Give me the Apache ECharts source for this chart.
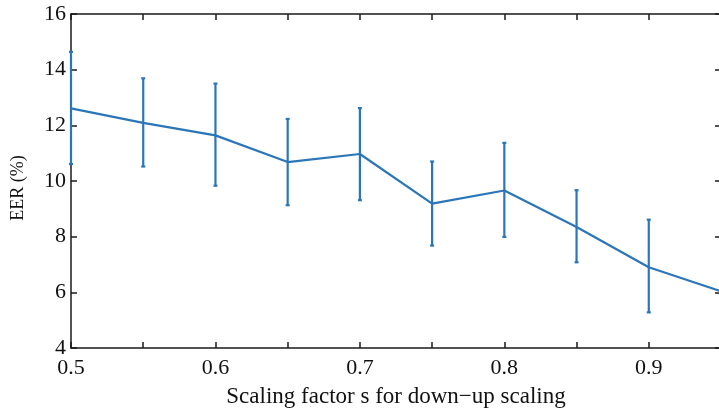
<!DOCTYPE html>
<html>
<head>
<meta charset="utf-8">
<title>EER vs scaling factor</title>
<script src="https://cdn.jsdelivr.net/npm/echarts@6/dist/echarts.min.js"></script>
<style>
    html, body { margin: 0; padding: 0; background: #ffffff; }
    #chart { width: 719px; height: 417px; }
</style>
</head>
<body>
<div id="chart"></div>
<script>
    // values
    var scaleFactors = [0.5, 0.55, 0.6, 0.65, 0.7, 0.75, 0.8, 0.85, 0.9, 0.95];
    var eerMean = [12.61, 12.09, 11.64, 10.68, 10.97, 9.19, 9.66, 8.35, 6.9, 6.04];
    var eerLow  = [10.61, 10.52, 9.83, 9.13, 9.31, 7.68, 7.99, 7.08, 5.28, null];
    var eerHigh = [14.64, 13.69, 13.5, 12.23, 12.62, 10.7, 11.37, 9.67, 8.61, null];
    var xTickLabels = ['0.5', '0.6', '0.7', '0.8', '0.9'];
    var yTicks = [4, 6, 8, 10, 12, 14, 16];

    var lineColor = '#2b75b9';
    var serif = 'Liberation Serif';

    var linePoints = scaleFactors.map(function (x, i) { return [x, eerMean[i]]; });
    var barPoints = [];
    scaleFactors.forEach(function (x, i) {
        if (eerLow[i] != null) barPoints.push([x, eerLow[i], eerHigh[i]]);
    });

    function xLabel(v) {
        var s = (Math.round(v * 100) / 100).toFixed(1);
        if (Math.round(v * 100) % 10 !== 0) return '';
        return xTickLabels.indexOf(s) >= 0 ? s : '';
    }

    var axisLine = { show: true, lineStyle: { color: '#1a1a1a', width: 1.5 } };
    var tick = { show: true, inside: true, length: 6, lineStyle: { color: '#1a1a1a', width: 1.5 } };

    var chart = echarts.init(document.getElementById('chart'));
    chart.setOption({
        animation: false,
        backgroundColor: '#ffffff',
        grid: { left: 71, right: -2, top: 14, bottom: 69, outerBoundsMode: 'none', containLabel: false },
        xAxis: [{
            type: 'value', min: 0.5, max: 0.95, interval: 0.05,
            name: 'Scaling factor s for down\u2212up scaling',
            nameLocation: 'middle', nameGap: 37,
            nameTextStyle: { fontFamily: serif, fontSize: 23, color: '#111' },
            axisLine: axisLine, axisTick: tick,
            axisLabel: { formatter: xLabel, fontFamily: serif, fontSize: 22, color: '#111', margin: 9, showMaxLabel: true },
            splitLine: { show: false }
        }, {
            type: 'value', position: 'top', min: 0.5, max: 0.95, interval: 0.05,
            axisLine: axisLine, axisTick: tick,
            axisLabel: { show: false }, splitLine: { show: false }
        }],
        yAxis: [{
            type: 'value', min: yTicks[0], max: yTicks[yTicks.length - 1], interval: 2,
            name: 'EER (%)', nameLocation: 'middle', nameGap: 44,
            nameTextStyle: { fontFamily: serif, fontSize: 18, color: '#111', padding: [0, 14, 0, 0] },
            axisLine: axisLine, axisTick: tick,
            axisLabel: { fontFamily: serif, fontSize: 22, color: '#111', margin: 5 },
            splitLine: { show: false }
        }, {
            type: 'value', position: 'right', min: yTicks[0], max: yTicks[yTicks.length - 1], interval: 2,
            axisLine: axisLine, axisTick: tick,
            axisLabel: { show: false }, splitLine: { show: false }
        }],
        series: [{
            type: 'line',
            data: linePoints,
            symbol: 'none',
            lineStyle: { color: lineColor, width: 2.2 },
            z: 3
        }, {
            type: 'custom',
            data: barPoints,
            encode: { x: 0, y: [1, 2] },
            renderItem: function (params, api) {
                var x = api.value(0);
                var lo = api.coord([x, api.value(1)]);
                var hi = api.coord([x, api.value(2)]);
                var cap = 2;
                var style = { stroke: lineColor, lineWidth: 2.2 };
                return {
                    type: 'group',
                    children: [
                        { type: 'line', shape: { x1: lo[0], y1: lo[1], x2: hi[0], y2: hi[1] }, style: style },
                        { type: 'line', shape: { x1: lo[0] - cap, y1: lo[1], x2: lo[0] + cap, y2: lo[1] }, style: style },
                        { type: 'line', shape: { x1: hi[0] - cap, y1: hi[1], x2: hi[0] + cap, y2: hi[1] }, style: style }
                    ]
                };
            },
            z: 4
        }]
    });
</script>
</body>
</html>
